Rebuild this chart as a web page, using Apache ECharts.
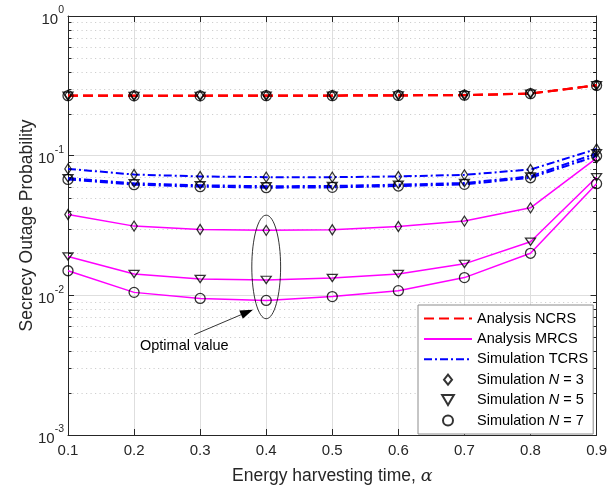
<!DOCTYPE html>
<html>
<head>
<meta charset="utf-8">
<script src="https://cdn.jsdelivr.net/npm/echarts@6/dist/echarts.min.js"></script>
<style>
  html, body { margin: 0; padding: 0; background: #fff; }
  #chart { width: 610px; height: 490px; }
</style>
</head>
<body>
<div id="chart"></div>
<script>
// data
const alpha = [0.1, 0.2, 0.3, 0.4, 0.5, 0.6, 0.7, 0.8, 0.9];

const ncrs3 = [0.270, 0.269, 0.269, 0.270, 0.270, 0.271, 0.272, 0.279, 0.320];
const ncrs5 = [0.269, 0.268, 0.268, 0.269, 0.269, 0.270, 0.271, 0.278, 0.319];
const ncrs7 = [0.269, 0.268, 0.268, 0.269, 0.269, 0.270, 0.271, 0.278, 0.318];

const mrcs3 = [0.0379, 0.0313, 0.0296, 0.0292, 0.0295, 0.0311, 0.0340, 0.0423, 0.096];
const mrcs5 = [0.0190, 0.0142, 0.0131, 0.0129, 0.0133, 0.0142, 0.0168, 0.0242, 0.070];
const mrcs7 = [0.0150, 0.0105, 0.0095, 0.0092, 0.0098, 0.0108, 0.0134, 0.0200, 0.063];

const tcrs3 = [0.0804, 0.0733, 0.0710, 0.0702, 0.0702, 0.0710, 0.0729, 0.0796, 0.1116];
const tcrs5 = [0.0690, 0.0634, 0.0614, 0.0604, 0.0607, 0.0620, 0.0637, 0.0711, 0.1040];
const tcrs7 = [0.0676, 0.0620, 0.0600, 0.0590, 0.0593, 0.0606, 0.0623, 0.0695, 0.0995];

// minor grid values of the log axis
const minorVals = [0.002, 0.003, 0.004, 0.005, 0.006, 0.007, 0.008, 0.009,
                   0.02, 0.03, 0.04, 0.05, 0.06, 0.07, 0.08, 0.09,
                   0.2, 0.3, 0.4, 0.5, 0.6, 0.7, 0.8, 0.9];

const FONT = 'Liberation Sans';
const pair = arr => arr.map((v, i) => [alpha[i], v]);

const lineSeries = (name, arr, color, type, width) => ({
  name: name,
  type: 'line',
  data: pair(arr),
  symbol: 'none',
  lineStyle: { color: color, type: type, width: width },
  itemStyle: { color: color },
  z: 3,
  silent: true
});

const DIAMOND = 'path://M4,0L8,5L4,10L0,5Z';
const TRI_DOWN = 'path://M0,0L10,0L5,8.5Z';

const markSeries = (name, arrs, symbol, size) => ({
  name: name,
  type: 'scatter',
  data: [].concat(...arrs.map(pair)),
  symbol: symbol,
  symbolSize: size,
  symbolKeepAspect: true,
  itemStyle: { color: 'rgba(0,0,0,0)', borderColor: '#000', borderWidth: 1.3 },
  z: 5,
  silent: true
});

// legend entry for a line: hide the symbol that ECharts puts on the line icon
const lineEntry = name => ({ name: name, itemStyle: { opacity: 0 } });

const chart = echarts.init(document.getElementById('chart'));

const option = {
  animation: false,
  backgroundColor: '#fff',
  textStyle: { fontFamily: FONT },
  grid: { left: 68, right: 10, top: 16, bottom: 52 },
  xAxis: [
    {
      type: 'value', min: 0.1, max: 0.9, interval: 0.1,
      name: 'Energy harvesting time, {a|α}',
      nameLocation: 'middle', nameGap: 32,
      nameTextStyle: {
        fontSize: 17.5, color: '#262626', fontFamily: FONT,
        rich: { a: { fontSize: 17.5, fontStyle: 'italic', fontFamily: 'DejaVu Serif', color: '#262626' } }
      },
      axisLine: { lineStyle: { color: '#262626', width: 1 } },
      axisTick: { inside: true, length: 6, lineStyle: { color: '#262626' } },
      axisLabel: { fontSize: 15, color: '#262626', margin: 8, formatter: v => v.toFixed(1) },
      splitLine: { show: true, lineStyle: { color: '#dedede', width: 1 } }
    },
    {
      type: 'value', min: 0.1, max: 0.9, interval: 0.1, position: 'top',
      axisLine: { lineStyle: { color: '#262626', width: 1 } },
      axisTick: { inside: true, length: 6, lineStyle: { color: '#262626' } },
      axisLabel: { show: false },
      splitLine: { show: false }
    }
  ],
  yAxis: [
    {
      type: 'log', logBase: 10, min: 0.001, max: 1,
      name: 'Secrecy Outage Probability',
      nameLocation: 'middle', nameGap: 32, nameMoveOverlap: false,
      nameTextStyle: { fontSize: 17.5, color: '#262626', fontFamily: FONT },
      axisLine: { show: true, lineStyle: { color: '#262626', width: 1 } },
      axisTick: { inside: true, length: 6, lineStyle: { color: '#262626' } },
      axisLabel: {
        margin: 4, color: '#262626',
        formatter: v => '{b|10}{s|' + Math.round(Math.log10(v)) + '}',
        rich: {
          b: { fontSize: 15, lineHeight: 22, verticalAlign: 'bottom', color: '#262626', fontFamily: FONT },
          s: { fontSize: 10.5, lineHeight: 22, verticalAlign: 'top', color: '#262626', fontFamily: FONT }
        }
      },
      splitLine: { show: true, lineStyle: { color: '#dedede', width: 1 } }
    },
    {
      type: 'log', logBase: 10, min: 0.001, max: 1, position: 'right',
      axisLine: { show: true, lineStyle: { color: '#262626', width: 1 } },
      axisTick: { inside: true, length: 6, lineStyle: { color: '#262626' } },
      axisLabel: { show: false },
      splitLine: { show: false }
    }
  ],
  legend: {
    left: 418, top: 305,
    orient: 'vertical',
    padding: [6, 5, 6, 5],
    itemWidth: 48, itemHeight: 10, itemGap: 5.4,
    itemTextGap: 6,
    backgroundColor: '#fff',
    borderColor: '#8c8c8c', borderWidth: 1, borderRadius: 0,
    selectedMode: false,
    data: [
      lineEntry('Analysis NCRS'),
      lineEntry('Analysis MRCS'),
      lineEntry('Simulation TCRS'),
      'Simulation N = 3', 'Simulation N = 5', 'Simulation N = 7'
    ],
    formatter: name => name.replace('N =', '{i|N} ='),
    textStyle: {
      fontSize: 14.5, lineHeight: 14, color: '#000', fontFamily: FONT,
      rich: { i: { fontSize: 14.5, lineHeight: 14, fontStyle: 'italic', color: '#000', fontFamily: FONT } }
    }
  },
  series: [
    {
      // minor log grid and minor ticks
      type: 'custom',
      data: minorVals.map(v => [0.5, v]),
      encode: { x: 0, y: 1 },
      silent: true,
      z: 1,
      renderItem: (params, api) => {
        const cs = params.coordSys;
        const y = Math.round(api.coord([0.5, api.value(1)])[1]) + 0.5;
        const x0 = cs.x, x1 = cs.x + cs.width;
        return {
          type: 'group',
          children: [
            { type: 'line', shape: { x1: x0, y1: y, x2: x1, y2: y },
              style: { stroke: '#cfcfcf', lineWidth: 1, lineDash: [1.2, 3.3] } },
            { type: 'line', shape: { x1: x0, y1: y, x2: x0 + 3.5, y2: y },
              style: { stroke: '#262626', lineWidth: 1 } },
            { type: 'line', shape: { x1: x1 - 3.5, y1: y, x2: x1, y2: y },
              style: { stroke: '#262626', lineWidth: 1 } }
          ]
        };
      }
    },
    lineSeries('Analysis NCRS', ncrs3, '#ff0000', [10, 5], 2),
    lineSeries('Analysis NCRS', ncrs5, '#ff0000', [10, 5], 2),
    lineSeries('Analysis NCRS', ncrs7, '#ff0000', [10, 5], 2),
    lineSeries('Analysis MRCS', mrcs3, '#ff00ff', 'solid', 1.5),
    lineSeries('Analysis MRCS', mrcs5, '#ff00ff', 'solid', 1.5),
    lineSeries('Analysis MRCS', mrcs7, '#ff00ff', 'solid', 1.5),
    lineSeries('Simulation TCRS', tcrs3, '#0000ff', [8, 3, 2, 3], 2),
    lineSeries('Simulation TCRS', tcrs5, '#0000ff', [8, 3, 2, 3], 2),
    lineSeries('Simulation TCRS', tcrs7, '#0000ff', [8, 3, 2, 3], 2),
    markSeries('Simulation N = 3', [ncrs3, mrcs3, tcrs3], DIAMOND, [8, 10]),
    markSeries('Simulation N = 5', [ncrs5, mrcs5, tcrs5], TRI_DOWN, [10, 8.5]),
    markSeries('Simulation N = 7', [ncrs7, mrcs7, tcrs7], 'circle', 10)
  ]
};

chart.setOption(option);

// annotation: ellipse around the optimum, arrow and text
function addNote() {
  const px = p => chart.convertToPixel({ gridIndex: 0 }, p);
  const eTop = px([0.4, 0.0375]);
  const eBot = px([0.4, 0.0068]);
  const eSide = px([0.4218, 0.0375]);
  const head = px([0.380, 0.0079]);
  const tail = px([0.291, 0.00523]);
  const txt = px([0.276, 0.00431]);

  const dx = head[0] - tail[0], dy = head[1] - tail[1];
  const len = Math.sqrt(dx * dx + dy * dy);
  const ux = dx / len, uy = dy / len;
  const aL = 13, aW = 4.5;
  const base = [head[0] - ux * aL, head[1] - uy * aL];

  chart.setOption({
    graphic: [
      {
        type: 'ellipse', z: 10, silent: true,
        shape: { cx: eTop[0], cy: (eTop[1] + eBot[1]) / 2, rx: eSide[0] - eTop[0], ry: (eBot[1] - eTop[1]) / 2 },
        style: { fill: 'none', stroke: '#000', lineWidth: 0.8 }
      },
      {
        type: 'line', z: 10, silent: true,
        shape: { x1: tail[0], y1: tail[1], x2: base[0], y2: base[1] },
        style: { stroke: '#000', lineWidth: 0.8 }
      },
      {
        type: 'polygon', z: 10, silent: true,
        shape: { points: [head,
          [base[0] - uy * aW, base[1] + ux * aW],
          [base[0] + uy * aW, base[1] - ux * aW]] },
        style: { fill: '#000' }
      },
      {
        type: 'text', z: 10, silent: true,
        x: txt[0], y: txt[1],
        style: { text: 'Optimal value', fontSize: 14.5, fontFamily: FONT, fill: '#000',
                 align: 'center', verticalAlign: 'middle' }
      }
    ]
  });
}
addNote();
</script>
</body>
</html>
